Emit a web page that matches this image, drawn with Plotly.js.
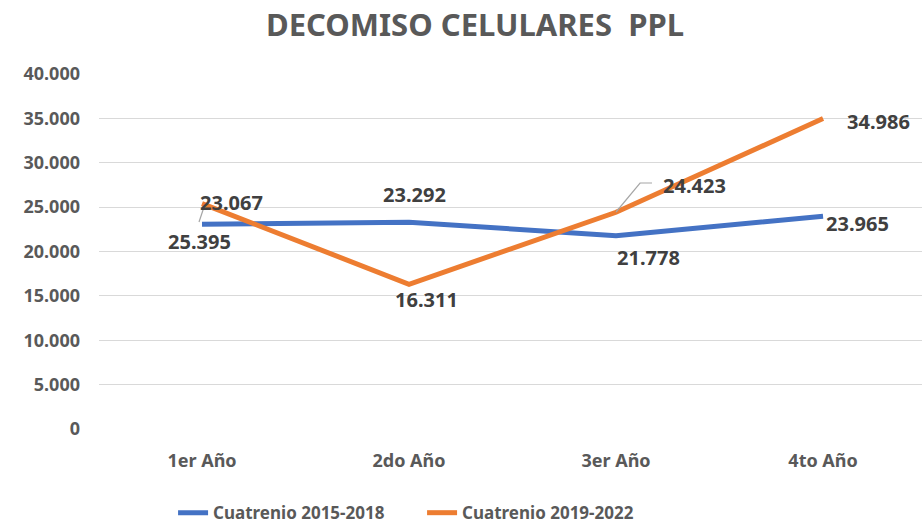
<!DOCTYPE html>
<html><head><meta charset="utf-8">
<script src="https://cdn.plot.ly/plotly-3.0.1.min.js"></script>
<style>html,body{margin:0;padding:0;background:#fff}#chart{width:922px;height:527px}</style>
</head><body><div id="chart"></div>
<script>
const categories = ["1er Año", "2do Año", "3er Año", "4to Año"];
const series1Name = "Cuatrenio 2015-2018";
const series1 = [23067, 23292, 21778, 23965];
const series2Name = "Cuatrenio 2019-2022";
const series2 = [25395, 16311, 24423, 34986];
const titleText = "DECOMISO CELULARES  PPL";

const FONT = "'Noto Sans', 'Open Sans', sans-serif";
const fmt = v => v.toLocaleString('de-DE');

// label pixel offsets (style/position, not data)
const shifts1 = [[29, 22], [5, 28], [32, -22], [34, -7]];
const shifts2 = [[-3, -38], [17, -15], [78, 27], [55, -3]];

const annotations = [];
function addLabels(vals, shifts) {
  vals.forEach((v, i) => {
    annotations.push({
      x: categories[i], y: v, xref: 'x', yref: 'y', text: fmt(v), showarrow: false,
      xshift: shifts[i][0], yshift: shifts[i][1],
      font: {family: FONT, size: 20, color: '#404040', weight: 'bold'}
    });
  });
}
addLabels(series1, shifts1);
addLabels(series2, shifts2);

const traces = [
  {x: categories, y: series1, name: series1Name, type: 'scatter', mode: 'lines',
   line: {color: '#4472C4', width: 5}},
  {x: categories, y: series2, name: series2Name, type: 'scatter', mode: 'lines',
   line: {color: '#ED7D31', width: 5}}
];

const layout = {
  width: 922, height: 527,
  separators: ',.',
  paper_bgcolor: '#fff', plot_bgcolor: '#fff',
  margin: {l: 99, r: 0, t: 74, b: 98, autoexpand: false},
  title: {text: titleText, x: 475/922, xref: 'container', xanchor: 'center',
          y: 1 - 25/527, yref: 'container', yanchor: 'middle',
          font: {family: FONT, size: 31, color: '#595959', weight: 'bold'}},
  xaxis: {type: 'category', range: [-0.4976, 3.478], showgrid: false, zeroline: false,
          showline: false, ticks: '', ticklabelstandoff: 19,
          tickfont: {family: FONT, size: 18, color: '#595959', weight: 'bold'}},
  yaxis: {range: [0, 40000], dtick: 5000, tickformat: ',d', showgrid: true,
          gridcolor: '#d9d9d9', gridwidth: 1, zeroline: false, showline: false,
          ticks: '', ticklabelstandoff: 18,
          tickfont: {family: FONT, size: 18, color: '#595959', weight: 'bold'}},
  showlegend: true,
  legend: {orientation: 'h', x: 0.09, xanchor: 'left', y: -0.237, yanchor: 'middle',
           font: {family: FONT, size: 17, color: '#595959', weight: 'bold'},
           itemwidth: 30, tracegroupgap: 0, entrywidth: 204, entrywidthmode: 'pixels'},
  annotations: annotations,
  shapes: [
    {type: 'line', xref: 'x', yref: 'y', x0: -0.0145, y0: 23324, x1: 0.0097, y1: 25014,
     line: {color: '#a6a6a6', width: 1.2}},
    {type: 'path', xref: 'x', yref: 'y',
     path: 'M 2.0,24451 L 2.116,27718 L 2.174,27718',
     line: {color: '#a6a6a6', width: 1.2}}
  ]
};
Plotly.newPlot('chart', traces, layout, {staticPlot: true});
</script></body></html>
